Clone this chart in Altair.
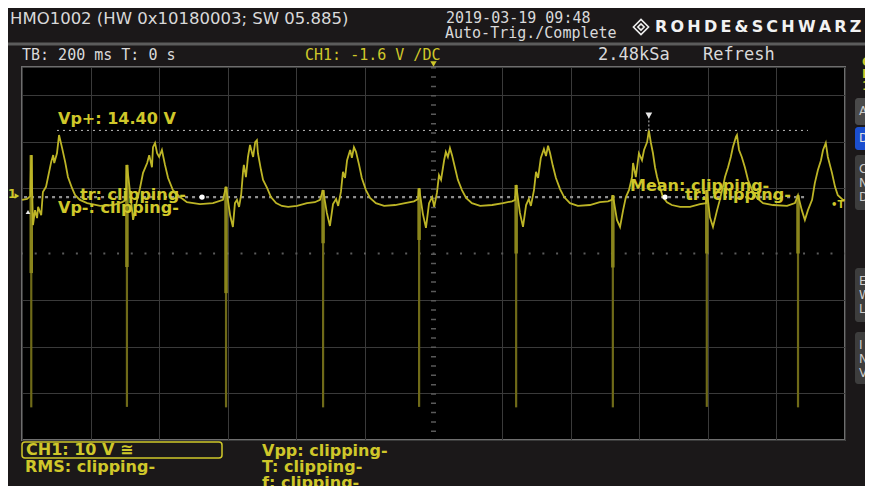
import altair as alt
import pandas as pd

# ---------------- data (time in ms, voltage in V) ----------------
t_ms = [
    -1200, -1185, -1176,
    -1173, -1168, -1162, -1156, -1153, -1144, -1139, -1130, -1124, -1115, -1109, -1106, -1098, -1092,
    -1083, -1074, -1066, -1054, -1045, -1031, -1010, -972, -934, -908, -897,
    -894, -879, -876, -864, -856, -847, -835, -829, -821, -818, -812, -806, -800, -792,
    -783, -774, -760, -739, -719, -681, -643, -614,
    -605, -593, -585, -579, -573, -567, -561, -555, -553, -547, -541, -535, -529, -526, -520, -515, -512,
    -503, -497, -485, -474, -459, -442, -424, -398, -369, -346, -331,
    -322, -311, -302, -293, -284, -278, -270, -264, -258, -252, -243, -238, -232, -226,
    -217, -209, -197, -185, -168, -144, -112, -83, -57, -45,
    -42, -31, -22, -13, -4, 2, 10, 16, 22, 31, 36, 42, 48, 54,
    63, 71, 83, 95, 112, 136, 171, 203, 229, 238,
    241, 252, 261, 270, 278, 284, 293, 299, 305, 313, 322, 328, 334, 340,
    348, 357, 369, 381, 398, 421, 456, 485, 509, 520,
    523, 535, 544, 553, 561, 570, 579, 582, 590, 599, 608, 614, 623, 628,
    634, 640, 646, 652, 660, 669, 681, 695, 719, 748, 777, 795,
    797, 806, 815, 827, 835, 844, 850, 859, 867, 873, 882, 885,
    891, 899, 908, 917, 929, 943, 961, 990, 1031, 1054,
    1063, 1074, 1083, 1092, 1104, 1112, 1121, 1130, 1136, 1144,
    1150, 1162, 1171, 1179, 1194, 1200,
]
volts = [
    -0.5, -0.3, 0.3,
    9.1, -5.9, -2.7, -4.4, -2.0, -3.8, 1.2, 2.3, 4.4, 7.6, 9.1, 7.4, 9.5, 13.4,
    10.6, 7.6, 4.4, 2.0, 0.5, -0.5, -1.2, -1.8, -1.6, -1.0, -0.5,
    7.0, -2.7, -4.8, -0.5, 2.0, 5.3, 7.4, 9.1, 6.5, 10.8, 11.7, 9.5, 8.7, 10.2,
    7.0, 4.2, 1.6, 0.1, -1.0, -1.4, -1.2, -0.5,
    2.3, -3.8, -6.3, -1.2, -0.5, -2.0, 0.5, 5.9, 7.0, 4.4, 8.7, 11.3, 9.5, 8.7, 11.9, 12.3, 9.5,
    5.9, 3.8, 2.0, 0.1, -1.2, -1.8, -2.0, -1.8, -1.2, -1.0, -0.5,
    1.6, -3.3, -6.1, -1.4, -0.3, -1.8, 1.2, 5.5, 4.2, 8.0, 10.2, 8.5, 10.8, 9.8,
    7.0, 4.2, 1.6, -0.1, -1.2, -1.8, -1.6, -1.2, -0.8, -0.3,
    2.0, -3.5, -6.5, -1.2, 0.1, -2.0, 1.0, 4.8, 3.8, 8.0, 9.8, 8.7, 10.6, 9.1,
    6.3, 3.8, 1.6, -0.1, -1.2, -1.8, -1.6, -1.2, -0.8, -0.5,
    2.7, -3.3, -6.3, -1.6, -0.3, -1.8, 1.6, 5.5, 4.2, 8.5, 10.4, 8.9, 11.1, 9.5,
    6.8, 4.2, 1.8, 0.1, -1.2, -1.8, -1.6, -1.0, -0.8, -0.5,
    0.5, -4.8, -6.3, -2.7, 0.1, 1.6, 4.4, 7.4, 4.4, 9.5, 8.0, 10.2, 11.9, 14.4,
    11.7, 9.5, 6.5, 4.4, 2.3, 0.1, -1.0, -1.6, -2.0, -2.0, -1.4, -1.2,
    1.6, -4.2, -6.3, -2.7, -0.5, 2.3, 4.4, 6.5, 8.7, 10.8, 13.0, 13.4,
    10.2, 8.7, 6.5, 3.8, 1.6, -0.1, -1.2, -1.6, -1.8, -1.2,
    0.5, -2.7, -4.8, -2.7, -0.5, 3.1, 5.9, 8.0, 10.2, 11.7,
    8.7, 5.3, 2.3, 0.5, -0.5, -0.5,
]

spike_t = [-1173, -894, -605, -322, -42, 241, 523, 797, 1063]
spike_top = [9.1, 7.0, 2.3, 1.6, 2.0, 2.7, 0.5, 1.6, 0.5]
spike_mid = [-16.2, -14.9, -20.5, -9.8, -9.1, -12.0, -15.0, -12.0, -12.0]
spike_bot = [-45.0, -44.9, -45.0, -45.0, -44.9, -45.0, -45.0, -44.9, -45.0]

vp_plus = 14.4
cursor_level = 0.1
cursor_span = [-1098, 1092]
cursor2_span = [-1194, 1092]
cursor_dots = [-675, 675]
peak_cursor_t = 628

x_grid = [-1200, -1000, -800, -600, -400, -200, 200, 400, 600, 800, 1000, 1200]
y_grid = [-52, -42, -32, -22, 2, 12, 22, 28]
x_center = 0
y_center = -12

# ---------------- styling ----------------
YEL = "#cfc72a"
TRACE = "#bdb526"
WHITE = "#d9d9d9"
FONT = "DejaVu Sans"
MONO = "DejaVu Sans Mono"

X = alt.Scale(domain=[-1200, 1200], nice=False, zero=False)
Y = alt.Scale(domain=[-52, 28], nice=False, zero=False)

ax_x = alt.Axis(values=x_grid, labels=False, ticks=False, domain=False, title=None,
                grid=True, gridColor="#3a3a3a", gridWidth=1)
ax_y = alt.Axis(values=y_grid, labels=False, ticks=False, domain=False, title=None,
                grid=True, gridColor="#3a3a3a", gridWidth=1)

trace = pd.DataFrame({"t": t_ms, "v": volts})
spikes = pd.DataFrame({"t": spike_t, "top": spike_top, "mid": spike_mid, "bot": spike_bot})

one = alt.Data(values=[{}])

grid = alt.Chart(trace).mark_point(opacity=0).encode(
    x=alt.X("t:Q", scale=X, axis=ax_x), y=alt.Y("v:Q", scale=Y, axis=ax_y))

hcenter = alt.Chart(pd.DataFrame({"v": [y_center]})).mark_rule(
    color="#5a5a5a", strokeWidth=2, strokeDash=[2, 11.72], strokeDashOffset=1
).encode(y=alt.Y("v:Q", scale=Y), x=alt.value(0), x2=alt.value(823))

vcenter = alt.Chart(pd.DataFrame({"t": [x_center]})).mark_rule(
    color="#5a5a5a", strokeWidth=5, strokeDash=[1.5, 7.82]
).encode(x=alt.X("t:Q", scale=X), y=alt.value(0), y2=alt.value(373))

cur1 = alt.Chart(pd.DataFrame({"a": [cursor_span[0]], "b": [cursor_span[1]], "v": [vp_plus]})).mark_rule(
    color="#bdbdbd", strokeWidth=1, strokeDash=[2, 4]
).encode(x=alt.X("a:Q", scale=X), x2="b:Q", y=alt.Y("v:Q", scale=Y))

cur2 = alt.Chart(pd.DataFrame({"a": [cursor2_span[0]], "b": [cursor2_span[1]], "v": [cursor_level]})).mark_rule(
    color="#8f8f8f", strokeWidth=2.2, strokeDash=[3, 4]
).encode(x=alt.X("a:Q", scale=X), x2="b:Q", y=alt.Y("v:Q", scale=Y))

cur_dots = alt.Chart(pd.DataFrame({"t": cursor_dots, "v": [cursor_level] * 2})).mark_point(
    shape="circle", filled=True, color="#ffffff", size=28, opacity=1
).encode(x=alt.X("t:Q", scale=X), y=alt.Y("v:Q", scale=Y))

peak_cur = alt.Chart(pd.DataFrame({"t": [peak_cursor_t], "a": [vp_plus], "b": [17.3]})).mark_rule(
    color="#bdbdbd", strokeWidth=1, strokeDash=[2, 2]
).encode(x=alt.X("t:Q", scale=X), y=alt.Y("a:Q", scale=Y), y2="b:Q")

peak_tri = alt.Chart(pd.DataFrame({"t": [peak_cursor_t], "v": [17.6]})).mark_point(
    shape="triangle-down", filled=True, color="#e8e8e8", size=45, opacity=1
).encode(x=alt.X("t:Q", scale=X), y=alt.Y("v:Q", scale=Y))

spk = alt.Chart(spikes).mark_rule(color="#6f6a18", strokeWidth=2.2).encode(
    x=alt.X("t:Q", scale=X), y=alt.Y("top:Q", scale=Y), y2="bot:Q")
spk_mid = alt.Chart(spikes).mark_rule(color="#8a851c", strokeWidth=3.5).encode(
    x=alt.X("t:Q", scale=X), y=alt.Y("top:Q", scale=Y), y2="mid:Q")

line = alt.Chart(trace).mark_line(color=TRACE, strokeWidth=1.8, interpolate="linear").encode(
    x=alt.X("t:Q", scale=X), y=alt.Y("v:Q", scale=Y))


def txt(s, x, y, color=YEL, size=14, weight="normal", align="left", font=FONT):
    return alt.Chart(one).mark_text(
        text=s, color=color, fontSize=size, fontWeight=weight, font=font,
        align=align, baseline="middle"
    ).encode(x=alt.value(x), y=alt.value(y))


def box(x1, x2, y1, y2, fill, stroke=None, sw=0, r=0):
    kw = dict(fill=fill, cornerRadius=r)
    if stroke:
        kw.update(stroke=stroke, strokeWidth=sw)
    return alt.Chart(one).mark_rect(**kw).encode(
        x=alt.value(x1), x2=alt.value(x2), y=alt.value(y1), y2=alt.value(y2))


def pt(x, y, shape, color, size, filled=True):
    return alt.Chart(one).mark_point(shape=shape, filled=filled, color=color, size=size,
                                     opacity=1, strokeWidth=1.6).encode(
        x=alt.value(x), y=alt.value(y))


sep = alt.Chart(one).mark_rule(color="#5c5c5c", strokeWidth=3).encode(
    x=alt.value(-22), x2=alt.value(860), y=alt.value(-23))

TS = "\u2009"
rs_text = TS.join("ROHDE&SCHWARZ")

layers = [
    grid, hcenter, vcenter, cur2, cur1, peak_cur, spk, spk_mid, line, cur_dots, peak_tri,
    sep,
    # header
    txt("HMO1002 (HW 0x10180003; SW 05.885)", -12, -48, WHITE, 16.5),
    txt("2019-03-19 09:48", 424, -49, WHITE, 15, font=MONO),
    txt("Auto-Trig./Complete", 423, -34, WHITE, 15, font=MONO),
    pt(619, -40, "diamond", "#f0f0f0", 230, filled=False),
    pt(619, -40, "diamond", "#f0f0f0", 40, filled=False),
    txt(rs_text, 633, -40, "#f2f2f2", 16, "bold"),
    txt("TB: 200 ms T: 0 s", 0, -12, WHITE, 15, font=MONO),
    txt("CH1: -1.6 V /DC", 283, -12, YEL, 15, font=MONO),
    txt("2.48kSa", 576, -12, WHITE, 17, font=MONO),
    txt("Refresh", 681, -12, WHITE, 17, font=MONO),
    pt(411.5, -3, "triangle-down", YEL, 40),
    # right side panel
    txt("C", 840, -5, YEL, 12, "bold"),
    txt("H", 840, 7, YEL, 12, "bold"),
    txt("1", 840, 19, YEL, 12, "bold"),
    box(833, 860, 31, 58, "#4a4a4a", r=3),
    box(833, 860, 60, 83, "#1b4fcf", r=3),
    box(833, 860, 88, 143, "#3d3d3d", r=3),
    box(833, 860, 201, 255, "#3d3d3d", r=3),
    box(833, 860, 265, 317, "#3d3d3d", r=3),
    txt("A", 837, 44, "#cccccc", 12),
    txt("D", 837, 71, "#e0e0e0", 12),
    txt("C", 837, 102, "#cccccc", 12),
    txt("N", 837, 116, "#cccccc", 12),
    txt("D", 837, 130, "#cccccc", 12),
    txt("E", 837, 214, "#cccccc", 12),
    txt("W", 837, 228, "#cccccc", 12),
    txt("L", 837, 242, "#cccccc", 12),
    txt("I", 837, 278, "#cccccc", 12),
    txt("N", 837, 292, "#cccccc", 12),
    txt("V", 837, 306, "#cccccc", 12),
    # in-grid labels
    txt("Vp+: 14.40 V", 36, 52, YEL, 16, "bold"),
    txt("tr: clipping-", 58, 128, YEL, 16, "bold"),
    txt("Vp-: clipping-", 36, 141, YEL, 16, "bold"),
    txt("Mean: clipping-", 608, 119, YEL, 16, "bold"),
    txt("tr: clipping-", 663, 128, YEL, 16, "bold"),
    txt("1", -14, 127, YEL, 12, "bold"),
    pt(-5, 129, "triangle-right", YEL, 30),
    pt(6, 145, "triangle-up", "#e8e8e8", 22),
    txt("\u2022T", 809, 138, YEL, 10, "bold"),
    # bottom
    box(0, 200, 375, 391, "transparent", YEL, 1.5, 3),
    txt("CH1: 10 V \u2245", 4, 383, YEL, 16, "bold"),
    txt("RMS: clipping-", 3, 400, YEL, 16, "bold"),
    txt("Vpp: clipping-", 240, 384, YEL, 16, "bold"),
    txt("T: clipping-", 240, 400, YEL, 16, "bold"),
    txt("f: clipping-", 240, 416, YEL, 16, "bold"),
]

chart = alt.layer(*layers).properties(
    width=823, height=373,
    autosize=alt.AutoSizeParams(type="none"),
    padding={"left": 14, "top": 59, "right": 20, "bottom": 46},
    background="#1b1819",
).configure_view(fill="#000000", stroke="#6e6e6e", strokeWidth=2)

chart.save("out.html", embed_options={"renderer": "svg", "actions": False})
